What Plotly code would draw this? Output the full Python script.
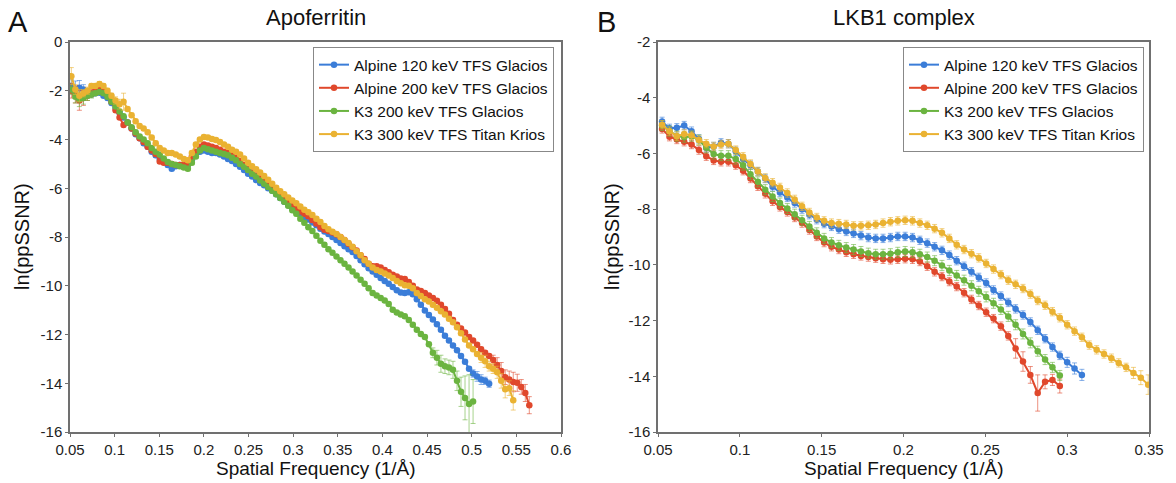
import plotly.graph_objects as go

SERIES = ["Alpine 120 keV TFS Glacios", "Alpine 200 keV TFS Glacios",
          "K3 200 keV TFS Glacios", "K3 300 keV TFS Titan Krios"]
COLORS = ["#3B7DD8", "#E0482C", "#6BB440", "#EAB232"]
ERR_COLORS = ["rgba(59,125,216,0.6)", "rgba(224,72,44,0.6)",
              "rgba(107,180,64,0.6)", "rgba(234,178,50,0.6)"]

# ---------------- Panel A: Apoferritin (frequency grid start / step, 1/Å)
A_X0, A_STEP = 0.0515, 0.0045
a_blue = [-1.8, -1.95, -1.88, -1.95, -2.1, -2.15, -2.1, -2.08, -2.2, -2.3,
          -2.5, -2.7, -2.9, -3.1, -3.3, -3.55, -3.78, -3.95, -4.15, -4.3,
          -4.5, -4.65, -4.8, -4.92, -5.05, -5.2, -5.1, -5.05, -5.1, -5.05,
          -4.85, -4.62, -4.5, -4.45, -4.5, -4.55, -4.55, -4.62, -4.7, -4.8,
          -4.88, -5.0, -5.12, -5.25, -5.4, -5.52, -5.66, -5.78, -5.88, -6.0,
          -6.1, -6.25, -6.4, -6.55, -6.7, -6.82, -6.95, -7.08, -7.18, -7.28,
          -7.4, -7.52, -7.66, -7.77, -7.88, -8.0, -8.12, -8.25, -8.38, -8.5,
          -8.62, -8.78, -8.95, -9.12, -9.28, -9.42, -9.55, -9.68, -9.8, -9.92,
          -10.05, -10.18, -10.28, -10.3, -10.27, -10.35, -10.55, -10.78, -11.02, -11.2,
          -11.38, -11.58, -11.8, -12.05, -12.25, -12.45, -12.65, -12.88, -13.12, -13.4,
          -13.6, -13.72, -13.85, -13.9, -14.02]
a_red = [-2.0, -2.15, -2.4, -2.3, -2.2, -2.1, -1.95, -1.9, -1.95, -2.15,
         -2.45, -2.8, -3.1, -3.4, -3.3, -3.55, -3.75, -3.95, -4.1, -4.3,
         -4.45, -4.6, -4.9, -4.95, -4.95, -5.0, -5.05, -5.05, -5.05, -4.95,
         -4.7, -4.5, -4.3, -4.2, -4.25, -4.3, -4.35, -4.42, -4.5, -4.55,
         -4.65, -4.75, -4.88, -5.05, -5.22, -5.35, -5.48, -5.6, -5.72, -5.85,
         -5.98, -6.1, -6.22, -6.35, -6.5, -6.65, -6.82, -6.95, -7.05, -7.15,
         -7.3, -7.45, -7.6, -7.7, -7.75, -7.82, -7.9, -8.0, -8.12, -8.28,
         -8.42, -8.55, -8.75, -8.9, -9.1, -9.2, -9.2, -9.25, -9.35, -9.45,
         -9.55, -9.62, -9.7, -9.72, -9.85, -10.0, -10.15, -10.22, -10.3, -10.4,
         -10.5, -10.62, -10.78, -10.95, -11.15, -11.4, -11.6, -11.75, -11.92, -12.1,
         -12.25, -12.42, -12.6, -12.75, -12.88, -13.05, -13.25, -13.5, -13.75, -13.85,
         -13.95, -13.98, -14.15, -14.4, -14.9]
a_green = [-1.95, -2.25, -2.35, -2.3, -2.2, -2.15, -2.1, -2.05, -2.1, -2.25,
           -2.45, -2.65, -2.85, -3.05, -3.3, -3.5, -3.7, -3.88, -4.0, -4.15,
           -4.35, -4.5, -4.62, -4.78, -4.92, -5.0, -5.05, -5.1, -5.15, -5.2,
           -4.95, -4.7, -4.45, -4.35, -4.4, -4.45, -4.5, -4.55, -4.6, -4.65,
           -4.75, -4.85, -5.0, -5.12, -5.25, -5.4, -5.52, -5.68, -5.82, -5.95,
           -6.1, -6.25, -6.4, -6.55, -6.72, -6.9, -7.05, -7.25, -7.42, -7.6,
           -7.75, -7.95, -8.15, -8.32, -8.5, -8.65, -8.8, -8.95, -9.1, -9.25,
           -9.42, -9.58, -9.75, -9.92, -10.1, -10.3, -10.4, -10.5, -10.6, -10.75,
           -10.98, -11.1, -11.18, -11.25, -11.4, -11.6, -11.8, -11.98, -12.1, -12.4,
           -12.75, -12.95, -13.2, -13.3, -13.35, -13.45, -13.9, -14.35, -14.6, -14.85,
           -14.75]
a_yellow = [-1.4, -1.95, -2.2, -2.1, -2.0, -1.8, -1.8, -1.72, -1.8, -2.0,
            -2.2, -2.4, -2.55, -2.45, -2.75, -3.0, -3.25, -3.45, -3.55, -3.7,
            -3.92, -4.15, -4.35, -4.45, -4.55, -4.55, -4.62, -4.7, -4.8, -4.85,
            -4.55, -4.2, -4.0, -3.9, -3.92, -3.98, -4.02, -4.1, -4.2, -4.3,
            -4.42, -4.5, -4.62, -4.78, -4.95, -5.1, -5.22, -5.35, -5.5, -5.65,
            -5.82, -5.98, -6.12, -6.25, -6.38, -6.5, -6.62, -6.75, -6.88, -6.98,
            -7.1, -7.25, -7.38, -7.55, -7.68, -7.78, -7.88, -8.0, -8.12, -8.25,
            -8.4, -8.58, -8.75, -8.95, -9.1, -9.25, -9.35, -9.42, -9.5, -9.58,
            -9.68, -9.8, -9.9, -9.98, -10.0, -10.1, -10.3, -10.42, -10.55, -10.65,
            -10.78, -10.9, -11.05, -11.18, -11.35, -11.5, -11.7, -11.95, -12.2, -12.45,
            -12.6, -12.8, -12.95, -13.1, -13.3, -13.4, -13.55, -13.9, -14.25, -14.2,
            -14.7]
a_blue_err = [0.25, 0.35, 0.3, 0.2, 0.15] + [0.08] * 95 + [0.15, 0.2, 0.2, 0.15, 0.15]
a_red_err = [0.3, 0.35, 0.4, 0.3, 0.2, 0.15, 0.1] + [0.08] * 98 + \
            [0.2, 0.3, 0.35, 0.3, 0.35, 0.4, 0.35, 0.3, 0.35, 0.35]
a_green_err = [0.2, 0.25, 0.3, 0.25, 0.2, 0.15] + [0.08] * 84 + \
              [0.2, 0.3, 0.35, 0.3, 0.3, 0.35, 0.4, 0.6, 0.9, 1.2, 0.9]
a_yellow_err = [0.35, 0.2, 0.25, 0.15, 0.15, 0.1, 0.1, 0.1, 0.1, 0.1, 0.1, 0.15, 0.2, 0.35] + \
               [0.08] * 88 + [0.2, 0.25, 0.2, 0.2, 0.25, 0.3, 0.35, 0.3, 0.4]

# ---------------- Panel B: LKB1 complex
B_X0, B_STEP = 0.0525, 0.0045
b_blue = [-4.85, -5.1, -5.08, -5.0, -5.2, -5.48, -5.8, -5.75, -5.62, -5.65,
          -5.92, -6.2, -6.42, -6.65, -6.9, -7.2, -7.4, -7.58, -7.78, -8.0,
          -8.2, -8.38, -8.52, -8.62, -8.72, -8.8, -8.87, -8.95, -9.02, -9.05,
          -9.05, -9.02, -8.98, -8.98, -9.02, -9.12, -9.22, -9.35, -9.48, -9.65,
          -9.85, -10.05, -10.25, -10.45, -10.65, -10.9, -11.12, -11.35, -11.58, -11.8,
          -12.05, -12.35, -12.65, -12.95, -13.25, -13.5, -13.72, -13.95]
b_red = [-5.12, -5.4, -5.5, -5.58, -5.68, -5.88, -6.1, -6.25, -6.3, -6.3,
         -6.42, -6.62, -6.9, -7.18, -7.45, -7.72, -7.92, -8.1, -8.3, -8.5,
         -8.75, -8.98, -9.2, -9.35, -9.45, -9.55, -9.62, -9.68, -9.72, -9.76,
         -9.8, -9.82, -9.8, -9.78, -9.8, -9.88, -10.05, -10.25, -10.42, -10.6,
         -10.78, -11.0, -11.24, -11.46, -11.7, -11.93, -12.2, -12.55, -13.0, -13.47,
         -13.95, -14.6, -14.2, -14.13, -14.35]
b_green = [-5.0, -5.2, -5.38, -5.42, -5.38, -5.52, -5.8, -6.02, -6.08, -6.08,
           -6.2, -6.42, -6.75, -7.02, -7.3, -7.55, -7.78, -7.98, -8.18, -8.4,
           -8.62, -8.85, -9.05, -9.2, -9.3, -9.38, -9.45, -9.52, -9.58, -9.62,
           -9.62, -9.6, -9.55, -9.52, -9.55, -9.62, -9.72, -9.85, -10.02, -10.2,
           -10.38, -10.55, -10.75, -10.95, -11.15, -11.38, -11.6, -11.85, -12.15, -12.48,
           -12.8, -13.1, -13.4, -13.68, -13.97]
b_yellow = [-4.97, -5.2, -5.38, -5.3, -5.35, -5.52, -5.65, -5.75, -5.68, -5.65,
            -5.88, -6.12, -6.38, -6.65, -6.88, -7.05, -7.22, -7.42, -7.65, -7.9,
            -8.12, -8.3, -8.42, -8.5, -8.52, -8.55, -8.6, -8.6, -8.58, -8.55,
            -8.5, -8.45, -8.42, -8.4, -8.42, -8.5, -8.58, -8.7, -8.85, -9.05,
            -9.28, -9.45, -9.6, -9.75, -9.95, -10.15, -10.35, -10.55, -10.7, -10.85,
            -11.05, -11.28, -11.45, -11.68, -11.9, -12.15, -12.38, -12.6, -12.88, -13.05,
            -13.2, -13.35, -13.52, -13.68, -13.88, -14.05, -14.3]
b_blue_err = [0.15] * 55 + [0.18, 0.2, 0.2]
b_red_err = [0.15] * 48 + [0.35, 0.35, 0.3, 0.65, 0.25, 0.2, 0.25]
b_green_err = [0.18] * 55
b_yellow_err = [0.15] * 64 + [0.2, 0.25, 0.35]

# ---------------- axis ticks
A_XTICKS = [0.05, 0.1, 0.15, 0.2, 0.25, 0.3, 0.35, 0.4, 0.45, 0.5, 0.55, 0.6]
A_YTICKS = [0, -2, -4, -6, -8, -10, -12, -14, -16]
B_XTICKS = [0.05, 0.1, 0.15, 0.2, 0.25, 0.3, 0.35]
B_YTICKS = [-2, -4, -6, -8, -10, -12, -14, -16]


def grid(x0, step, n):
    return [round(x0 + step * i, 5) for i in range(n)]


def lab(v):
    return f"{v:g}".replace("\u2212", "-")


FONT = "Liberation Sans, Arial, sans-serif"
fig = go.Figure()

panels = [
    ("x", "y", "legend", A_X0, A_STEP,
     [a_blue, a_red, a_green, a_yellow],
     [a_blue_err, a_red_err, a_green_err, a_yellow_err]),
    ("x2", "y2", "legend2", B_X0, B_STEP,
     [b_blue, b_red, b_green, b_yellow],
     [b_blue_err, b_red_err, b_green_err, b_yellow_err]),
]
for xa, ya, leg, x0, step, ys, errs in panels:
    for k in range(4):
        fig.add_trace(go.Scatter(
            x=grid(x0, step, len(ys[k])), y=ys[k], name=SERIES[k],
            mode="lines+markers", xaxis=xa, yaxis=ya, legend=leg,
            line=dict(color=COLORS[k], width=2),
            marker=dict(color=COLORS[k], size=6.5),
            error_y=dict(type="data", array=errs[k], visible=True,
                         color=ERR_COLORS[k], thickness=1, width=2.5),
        ))

AXCOL = "#707070"
common_ax = dict(showline=True, linecolor=AXCOL, linewidth=1.5, mirror=True,
                 showgrid=False, zeroline=False, ticks="outside", ticklen=3,
                 tickcolor=AXCOL, tickfont=dict(family=FONT, size=15, color="#222"))

DA = [0.0, 491 / 1079]
DB = [588 / 1079, 1.0]
fig.update_layout(
    width=1176, height=483,
    margin=dict(l=70, r=27, t=42, b=51),
    paper_bgcolor="white", plot_bgcolor="white",
    font=dict(family=FONT, color="#111"),
    showlegend=True,
    xaxis=dict(domain=DA, range=[0.05, 0.6], anchor="y",
               tickvals=A_XTICKS, ticktext=[lab(v) for v in A_XTICKS], **common_ax),
    yaxis=dict(domain=[0, 1], range=[-16, 0], anchor="x",
               tickvals=A_YTICKS, ticktext=[lab(v) for v in A_YTICKS], **common_ax),
    xaxis2=dict(domain=DB, range=[0.05, 0.35], anchor="y2",
                tickvals=B_XTICKS, ticktext=[lab(v) for v in B_XTICKS], **common_ax),
    yaxis2=dict(domain=[0, 1], range=[-16, -2], anchor="x2",
                tickvals=B_YTICKS, ticktext=[lab(v) for v in B_YTICKS], **common_ax),
    legend=dict(x=243 / 1079, y=0.987, xanchor="left", yanchor="top",
                bgcolor="white", bordercolor="#888", borderwidth=1,
                font=dict(family=FONT, size=15.5, color="#111"), tracegroupgap=0),
    legend2=dict(x=833 / 1079, y=0.987, xanchor="left", yanchor="top",
                 bgcolor="white", bordercolor="#888", borderwidth=1,
                 font=dict(family=FONT, size=15.5, color="#111"), tracegroupgap=0),
)

ann = []
def add_text(text, x, y, size, angle=0):
    ann.append(dict(text=text, x=x, y=y, xref="paper", yref="paper",
                    xanchor="center", yanchor="middle", showarrow=False,
                    textangle=angle, font=dict(family=FONT, size=size, color="#111")))

add_text("Apoferritin", (DA[0] + DA[1]) / 2, 1 + 25 / 390, 22)
add_text("LKB1 complex", (DB[0] + DB[1]) / 2, 1 + 25 / 390, 22)
add_text("A", -52 / 1079, 1 + 20 / 390, 29)
add_text("B", 536 / 1079, 1 + 20 / 390, 29)
add_text("Spatial Frequency (1/Å)", (DA[0] + DA[1]) / 2, -36 / 390, 19)
add_text("Spatial Frequency (1/Å)", (DB[0] + DB[1]) / 2, -36 / 390, 19)
add_text("ln(ppSSNR)", -48 / 1079, 0.5, 20, -90)
add_text("ln(ppSSNR)", 542 / 1079, 0.5, 20, -90)
fig.update_layout(annotations=ann)

# remove the browser's default 8 px page margin so the figure fills the window
fig.write_html("out.html",
               config={"displayModeBar": False},
               post_script="document.body.style.margin='0';"
                           "document.body.style.overflow='hidden';")
